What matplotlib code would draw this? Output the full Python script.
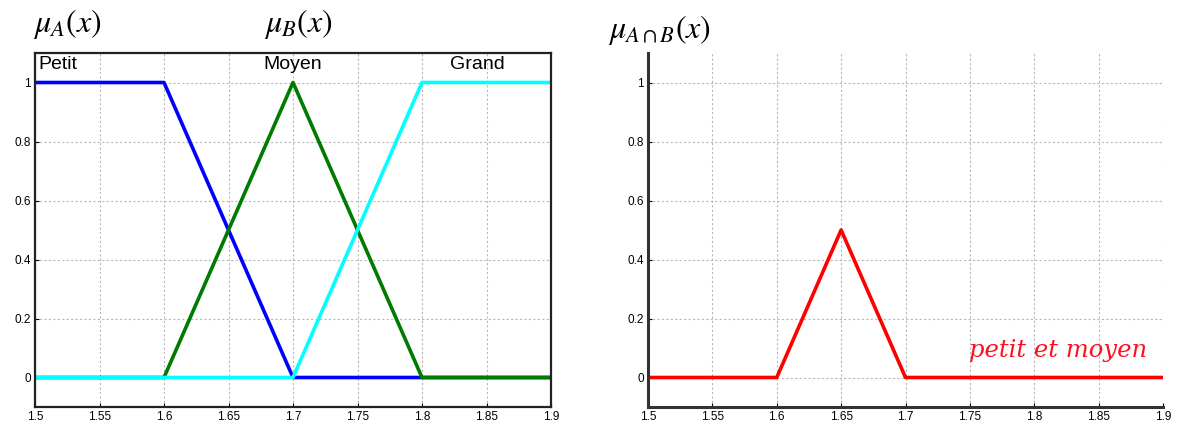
import matplotlib
matplotlib.use("Agg")
import matplotlib.pyplot as plt
import numpy as np

plt.rcParams['mathtext.fontset'] = 'stix'
plt.rcParams['font.family'] = ['Liberation Sans', 'DejaVu Sans']

# Data
petit_x = [1.5, 1.6, 1.7, 1.9]
petit_y = [1, 1, 0, 0]
moyen_x = [1.5, 1.6, 1.7, 1.8, 1.9]
moyen_y = [0, 0, 1, 0, 0]
grand_x = [1.5, 1.7, 1.8, 1.9]
grand_y = [0, 0, 1, 1]
inter_x = [1.5, 1.6, 1.65, 1.7, 1.9]
inter_y = [0, 0, 0.5, 0, 0]

xticks = [1.5, 1.55, 1.6, 1.65, 1.7, 1.75, 1.8, 1.85, 1.9]
xtick_labels = ["1.5", "1.55", "1.6", "1.65", "1.7", "1.75", "1.8", "1.85", "1.9"]
yticks = [0, 0.2, 0.4, 0.6, 0.8, 1]
ytick_labels = ["0", "0.2", "0.4", "0.6", "0.8", "1"]

fig = plt.figure(figsize=(11.81, 4.28), dpi=100)
W, H = 1181, 428
ax1 = fig.add_axes([35 / W, 1 - 407 / H, (551 - 35) / W, (407 - 53) / H])
ax2 = fig.add_axes([648 / W, 1 - 407 / H, (1163 - 648) / W, (407 - 53) / H])

for ax in (ax1, ax2):
    ax.set_xlim(1.5, 1.9)
    ax.set_ylim(-0.1, 1.1)
    ax.set_xticks(xticks)
    ax.set_xticklabels(xtick_labels)
    ax.set_yticks(yticks)
    ax.set_yticklabels(ytick_labels)
    ax.tick_params(direction='in', labelsize=8.5, length=3, pad=3)
    ax.grid(True, linestyle=(0, (2, 2)), color='#b8b8b8', linewidth=0.8)
    ax.set_axisbelow(True)

lw = 2.6
ax1.plot(petit_x, petit_y, color='#0000ff', lw=lw, solid_capstyle='butt')
ax1.plot(moyen_x, moyen_y, color='#007a00', lw=lw, solid_capstyle='butt')
ax1.plot(grand_x, grand_y, color='#00ffff', lw=lw, solid_capstyle='butt')
for s in ax1.spines.values():
    s.set_linewidth(1.6)
    s.set_color('#222222')

ax1.text(1.503, 1.06, "Petit", fontsize=14, ha='left', va='center')
ax1.text(1.70, 1.06, "Moyen", fontsize=14, ha='center', va='center')
ax1.text(1.843, 1.06, "Grand", fontsize=14, ha='center', va='center')

ax2.plot(inter_x, inter_y, color='#ff0000', lw=lw, solid_capstyle='butt')
ax2.spines['top'].set_visible(False)
ax2.spines['right'].set_visible(False)
for k in ('left', 'bottom'):
    ax2.spines[k].set_linewidth(2.2)
    ax2.spines[k].set_color('#333333')
ax2.text(1.888, 0.09, "petit et moyen", fontsize=17.5, color='#ff1020',
         family='DejaVu Serif', style='italic', ha='right', va='center')

fig.text(33 / W, 1 - 24 / H, r"$\mu_A(x)$", fontsize=23, ha='left', va='center')
fig.text(264 / W, 1 - 24 / H, r"$\mu_B(x)$", fontsize=23, ha='left', va='center')
fig.text(608 / W, 1 - 30 / H, r"$\mu_{A\cap B}(x)$", fontsize=23, ha='left', va='center')

fig.savefig("out.png", dpi=100)
